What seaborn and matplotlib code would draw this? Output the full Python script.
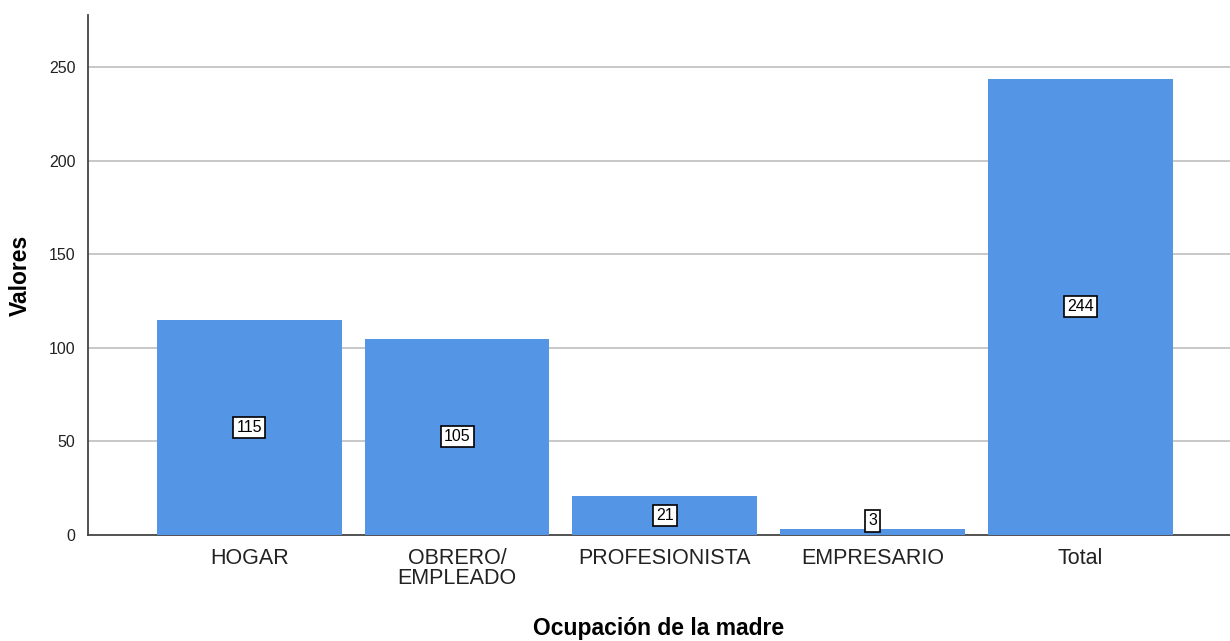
import matplotlib
matplotlib.use("Agg")
import matplotlib.pyplot as plt
import seaborn as sns
import pandas as pd

categories = ["HOGAR", "OBRERO/\nEMPLEADO", "PROFESIONISTA", "EMPRESARIO", "Total"]
values = [115, 105, 21, 3, 244]
yticks = [0, 50, 100, 150, 200, 250]

sns.set_theme(style="white")
plt.rcParams['font.family'] = ['Liberation Sans', 'DejaVu Sans']

df = pd.DataFrame({"cat": categories, "val": values})

fig = plt.figure(figsize=(12.3, 6.41), dpi=100)
ax = fig.add_axes([88/1230, 1-535/641, 1-88/1230, (535-15)/641])

sns.barplot(data=df, x="cat", y="val", color="#5595E5", saturation=1,
            width=0.89, ax=ax, zorder=3)
for p in ax.patches:
    p.set_edgecolor("none")

ax.set_ylim(0, 278)
ax.set_xlim(-0.776, 4.72)
ax.set_yticks(yticks)
ax.set_yticklabels([str(t) for t in yticks], fontsize=11.5, color="#222222")
ax.tick_params(axis="x", labelsize=15.5, length=0, pad=9, labelcolor="#222222")
ax.tick_params(axis="y", length=0, pad=9)
for lbl in ax.get_xticklabels():
    lbl.set_linespacing(1.0)
for t in yticks[1:]:
    ax.axhline(t, color="#c4c4c4", lw=1.3, zorder=1)

ax.set_xlabel("Ocupación de la madre", fontsize=16.5, fontweight="bold",
              labelpad=20, color="black")
ax.set_ylabel("Valores", fontsize=16.5, fontweight="bold", labelpad=12, color="black")

for s in ["top", "right"]:
    ax.spines[s].set_visible(False)
for s in ["left", "bottom"]:
    ax.spines[s].set_color("#444444")
    ax.spines[s].set_linewidth(1.3)

for i, v in enumerate(values):
    ypos = max(v / 2, 7.5)
    ax.text(i, ypos, str(v), ha="center", va="center", fontsize=11.5, color="black",
            zorder=5,
            bbox=dict(boxstyle="square,pad=0.2", facecolor="white",
                      edgecolor="black", linewidth=1.2))

fig.savefig("out.png", dpi=100)
